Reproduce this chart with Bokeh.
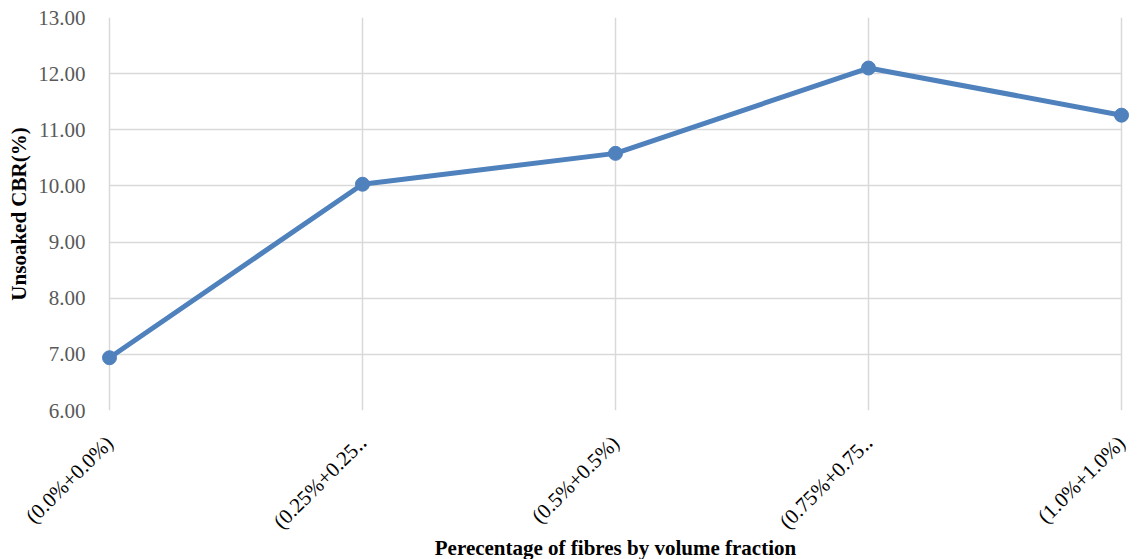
import math
from bokeh.plotting import figure
from bokeh.models import Range1d, FixedTicker, NumeralTickFormatter, ColumnDataSource
from bokeh.embed import file_html
from bokeh.resources import INLINE

categories = ["(0.0%+0.0%)", "(0.25%+0.25\u2025", "(0.5%+0.5%)", "(0.75%+0.75\u2025", "(1.0%+1.0%)"]
cbr_values = [6.94, 10.03, 10.58, 12.10, 11.26]
y_ticks = [6, 7, 8, 9, 10, 11, 12, 13]

xs = list(range(len(categories)))
src = ColumnDataSource(data=dict(x=xs, y=cbr_values))

pad = 0.0316
p = figure(frame_width=1028, frame_height=393, output_backend="svg", toolbar_location=None,
           x_range=Range1d(-pad, len(categories) - 1 + pad), y_range=Range1d(6, 13),
           min_border_left=101, min_border_right=1, min_border_top=17, min_border_bottom=5)

p.outline_line_color = None
p.background_fill_color = "white"
p.border_fill_color = "white"

p.line("x", "y", source=src, line_color="#4F81BD", line_width=5)
p.scatter("x", "y", source=src, size=14, fill_color="#4F81BD", line_color="#4F81BD")

for g in (p.xgrid, p.ygrid):
    g.grid_line_color = "#d9d9d9"
    g.grid_line_width = 1.5
try:
    p.ygrid.cross_bounds = (0, len(categories) - 1)
except Exception:
    pass

p.xaxis.ticker = FixedTicker(ticks=xs)
p.xaxis.major_label_overrides = {i: c for i, c in enumerate(categories)}
p.xaxis.major_label_orientation = math.pi / 4
p.xaxis.major_label_text_font = "Liberation Serif"
p.xaxis.major_label_text_font_size = "21px"
p.xaxis.major_label_text_color = "black"
p.xaxis.axis_label = "Perecentage of fibres by volume fraction"
p.xaxis.axis_label_text_font = "Liberation Serif"
p.xaxis.axis_label_text_font_style = "bold"
p.xaxis.axis_label_text_font_size = "21px"
p.xaxis.axis_label_text_color = "black"
p.xaxis.axis_label_standoff = -9
p.xaxis.major_label_standoff = 23

p.yaxis.ticker = FixedTicker(ticks=y_ticks)
p.yaxis.formatter = NumeralTickFormatter(format="0.00")
p.yaxis.major_label_text_font = "Liberation Serif"
p.yaxis.major_label_text_font_size = "21px"
p.yaxis.major_label_text_color = "#595959"
p.yaxis.major_label_standoff = 10
p.yaxis.axis_label = "Unsoaked CBR(%)"
p.yaxis.axis_label_text_font = "Liberation Serif"
p.yaxis.axis_label_text_font_style = "bold"
p.yaxis.axis_label_text_font_size = "21px"
p.yaxis.axis_label_text_color = "black"
p.yaxis.axis_label_standoff = 4

for ax in (p.xaxis, p.yaxis):
    ax.axis_line_color = None
    ax.major_tick_line_color = None
    ax.minor_tick_line_color = None

open("out.html", "w").write(file_html(p, INLINE))
